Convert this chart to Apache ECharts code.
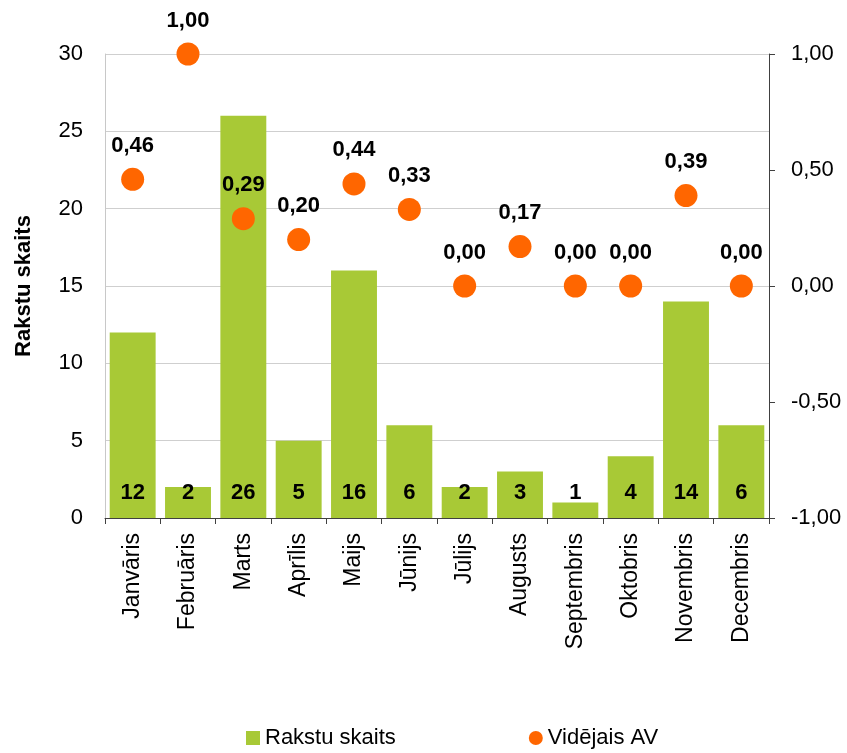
<!DOCTYPE html>
<html><head><meta charset="utf-8">
<script src="https://cdn.jsdelivr.net/npm/echarts@6/dist/echarts.min.js"></script>
<style>html,body{margin:0;padding:0;background:#fff}#c{width:847px;height:753px}</style>
</head><body><div id="c"></div>
<script>
var categories = ['Janvāris','Februāris','Marts','Aprīlis','Maijs','Jūnijs','Jūlijs','Augusts','Septembris','Oktobris','Novembris','Decembris'];
var rakstuSkaits = [12,2,26,5,16,6,2,3,1,4,14,6];
var videjaisAV = [0.46,1.00,0.29,0.20,0.44,0.33,0.00,0.17,0.00,0.00,0.39,0.00];
var leftTicks = {min:0, max:30, interval:5};
var rightTicks = {min:-1, max:1, interval:0.5};
var seriesNames = ['Rakstu skaits','Vidējais AV'];

function fmt(v){ return v.toFixed(2).replace('.', ','); }
var FONT = '"Liberation Sans", Arial, sans-serif';
var FS = 22;
var chart = echarts.init(document.getElementById('c'));
chart.setOption({
  animation:false,
  textStyle:{fontFamily:FONT},
  grid:{left:105, right:78, top:54, bottom:235, containLabel:false, outerBoundsMode:'none'},
  legend:{
    top:727, left:246, padding:0, itemGap:133, itemWidth:14, itemHeight:14,
    textStyle:{fontSize:FS, color:'#000', fontFamily:FONT},
    data:[{name:seriesNames[0], icon:'rect'},{name:seriesNames[1], icon:'circle'}]
  },
  xAxis:{
    type:'category', data:categories,
    axisLine:{lineStyle:{color:'#404040', width:1}},
    axisTick:{show:true, alignWithLabel:false, length:6, lineStyle:{color:'#404040'}},
    axisLabel:{rotate:90, fontSize:23, color:'#000', margin:15, fontFamily:FONT, interval:0}
  },
  yAxis:[{
    type:'value', min:leftTicks.min, max:leftTicks.max, interval:leftTicks.interval,
    name:'Rakstu skaits', nameLocation:'middle', nameGap:70, nameRotate:90,
    nameTextStyle:{fontSize:FS, fontWeight:'bold', color:'#000', fontFamily:FONT},
    axisLine:{show:true, lineStyle:{color:'#C8C8C8'}},
    axisTick:{show:false},
    splitLine:{show:true, lineStyle:{color:'#CFCFCF'}},
    axisLabel:{fontSize:FS, color:'#000', margin:22, fontFamily:FONT}
  },{
    type:'value', min:rightTicks.min, max:rightTicks.max, interval:rightTicks.interval,
    position:'right',
    axisLine:{show:true, lineStyle:{color:'#404040'}},
    axisTick:{show:true, inside:false, length:6, lineStyle:{color:'#404040'}},
    splitLine:{show:false},
    axisLabel:{fontSize:FS, color:'#000', margin:22, fontFamily:FONT, formatter:function(v){return fmt(v);}}
  }],
  series:[{
    name:seriesNames[0], type:'bar', yAxisIndex:0, data:rakstuSkaits,
    barCategoryGap:'17%',
    itemStyle:{color:'#A8C936'},
    label:{show:true, position:'insideBottom', distance:14, fontSize:FS, fontWeight:'bold', color:'#000', fontFamily:FONT}
  },{
    name:seriesNames[1], type:'scatter', yAxisIndex:1, data:videjaisAV,
    symbol:'circle', symbolSize:23,
    itemStyle:{color:'#FF6600', opacity:1},
    label:{show:true, position:'top', distance:11, fontSize:FS, fontWeight:'bold', color:'#000', fontFamily:FONT,
      formatter:function(p){return fmt(p.value);}},
    z:5
  }]
});
</script></body></html>
